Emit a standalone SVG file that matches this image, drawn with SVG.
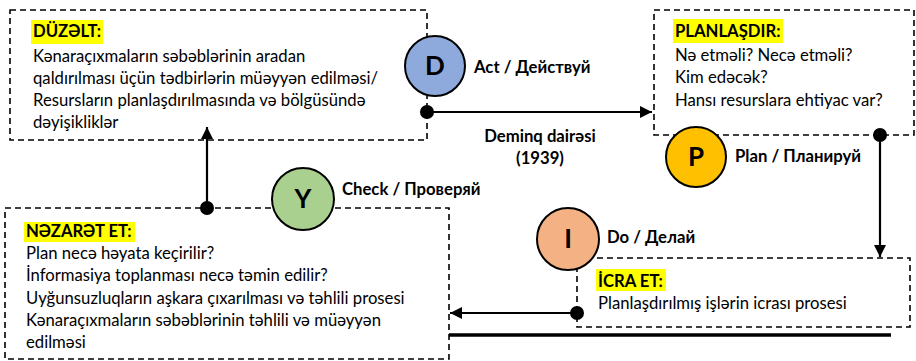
<svg xmlns="http://www.w3.org/2000/svg" width="916" height="361" viewBox="0 0 916 361">
<defs>
<style>
text{font-family:Lato,"Open Sans","Liberation Sans",sans-serif;fill:#000}
.t{font-size:16.7px}
.b{font-size:16.7px;font-weight:bold}
.hl{fill:#ffff00}
.box{fill:none;stroke:#000;stroke-width:1.6;stroke-dasharray:6 4}
.ln{fill:none;stroke:#000;stroke-width:2.2}
.c{stroke:#000;stroke-width:2}
.cl{font-size:26px;font-weight:bold;text-anchor:middle}
</style>
<marker id="ah2" viewBox="0 0 10 10" refX="10" refY="5" markerWidth="12" markerHeight="12" orient="auto" markerUnits="userSpaceOnUse"><path d="M0,0L10,5L0,10z" fill="#000"/></marker>
</defs>
<g id="act-box">
<rect class="box" x="10" y="10" width="417" height="130"/>
<rect class="hl" x="31" y="20" width="72" height="24"/>
<text class="b" x="33" y="37">DÜZƏLT:</text>
<text class="t" x="33" y="62">Kənaraçıxmaların səbəblərinin aradan</text>
<text class="t" x="33" y="84">qaldırılması üçün tədbirlərin müəyyən edilməsi/</text>
<text class="t" x="33" y="106">Resursların planlaşdırılmasında və bölgüsündə</text>
<text class="t" x="33" y="128">dəyişikliklər</text>
</g>
<g id="plan-box">
<rect class="box" x="654" y="10" width="260" height="125"/>
<rect class="hl" x="673" y="19" width="110" height="24"/>
<text class="b" x="675" y="37">PLANLAŞDIR:</text>
<text class="t" x="675" y="61">Nə etməli? Necə etməli?</text>
<text class="t" x="675" y="83">Kim edəcək?</text>
<text class="t" x="675" y="106">Hansı resurslara ehtiyac var?</text>
</g>
<g id="check-box">
<rect class="box" x="5" y="208" width="444" height="151"/>
<rect class="hl" x="24" y="222" width="111" height="20"/>
<text class="b" x="26" y="237">NƏZARƏT ET:</text>
<text class="t" x="26" y="259">Plan necə həyata keçirilir?</text>
<text class="t" x="26" y="281">İnformasiya toplanması necə təmin edilir?</text>
<text class="t" x="26" y="304">Uyğunsuzluqların aşkara çıxarılması və təhlili prosesi</text>
<text class="t" x="26" y="326">Kənaraçıxmaların səbəblərinin təhlili və müəyyən</text>
<text class="t" x="26" y="348">edilməsi</text>
</g>
<g id="do-box">
<rect class="box" x="577" y="258" width="333" height="69"/>
<rect class="hl" x="596" y="269" width="70" height="22"/>
<text class="b" x="598" y="287">İCRA ET:</text>
<text class="t" x="598" y="309">Planlaşdırılmış işlərin icrası prosesi</text>
</g>
<g id="connectors">
<line class="ln" x1="427" y1="112" x2="652" y2="112" marker-end="url(#ah2)"/>
<circle cx="427" cy="112" r="7"/>
<line class="ln" x1="880" y1="135" x2="880" y2="257" marker-end="url(#ah2)"/>
<circle cx="880" cy="135" r="7"/>
<line class="ln" x1="577" y1="313" x2="450" y2="313" marker-end="url(#ah2)"/>
<circle cx="577" cy="313" r="7"/>
<line class="ln" x1="207" y1="208" x2="207" y2="127" marker-end="url(#ah2)"/>
<circle cx="207" cy="208" r="7"/>
<line x1="449" y1="335" x2="891" y2="335" stroke="#000" stroke-width="3.5"/>
</g>
<g id="node-D">
<circle class="c" cx="435" cy="66" r="30" fill="#8EA9DB"/>
<text class="cl" x="435" y="75">D</text>
<text class="b" x="474" y="73">Act / Действуй</text>
</g>
<g id="node-P">
<circle class="c" cx="696" cy="157" r="30" fill="#FFC000"/>
<text class="cl" x="696" y="166">P</text>
<text class="b" x="735" y="162">Plan / Планируй</text>
</g>
<g id="node-Y">
<circle class="c" cx="303" cy="199" r="31" fill="#A9D08E"/>
<text class="cl" x="303" y="208">Y</text>
<text class="b" x="342" y="195">Check / Проверяй</text>
</g>
<g id="node-I">
<circle class="c" cx="568" cy="239" r="31" fill="#F4B183"/>
<text class="cl" x="568" y="248">I</text>
<text class="b" x="607" y="243">Do / Делай</text>
</g>
<g id="title">
<text class="b" x="540" y="142" text-anchor="middle">Deminq dairəsi</text>
<text class="b" x="540" y="164" text-anchor="middle">(1939)</text>
</g>
</svg>
